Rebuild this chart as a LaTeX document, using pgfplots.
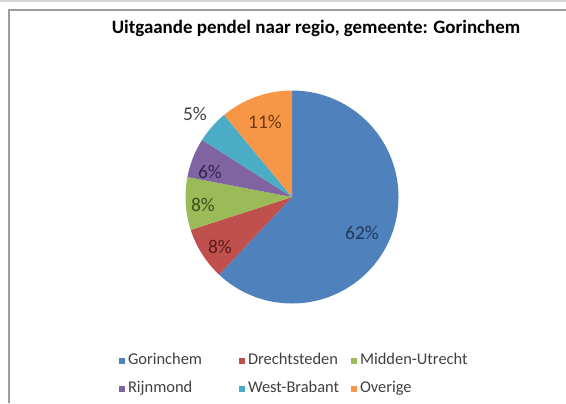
\documentclass[border=0pt]{standalone}
\usepackage{pgfplots}
\pgfplotsset{compat=1.18}
\usepackage{fontspec}
\setmainfont{Carlito}
\definecolor{pblue}{HTML}{4F81BD}
\definecolor{pred}{HTML}{C0504D}
\definecolor{pgreen}{HTML}{9BBB59}
\definecolor{ppurple}{HTML}{8064A2}
\definecolor{paqua}{HTML}{4BACC6}
\definecolor{porange}{HTML}{F79646}
\definecolor{lblue}{HTML}{1F3A5E}
\definecolor{lred}{HTML}{5A1C1A}
\definecolor{lgreen}{HTML}{3D4F1E}
\definecolor{lpurple}{HTML}{33264A}
\definecolor{lorange}{HTML}{6B3A10}
\definecolor{lgrayt}{HTML}{404040}
\definecolor{legtext}{HTML}{404040}
\definecolor{topline}{HTML}{D4D4D4}
\definecolor{frame}{HTML}{9C9C9C}
\begin{document}
\begin{tikzpicture}[x=1bp,y=1bp]
\useasboundingbox (0,0) rectangle (566,403);
\draw[color=topline, line width=1.5bp] (0,402) -- (566,402);
\draw[color=frame, line width=1.2bp] (9,0) -- (9,393) -- (566,393);
\node[anchor=base, font=\fontsize{19}{22}\selectfont\bfseries] at (316,369.7) {Uitgaande pendel naar regio, gemeente: Gorinchem};
\begin{axis}[
  at={(185.5bp,99.5bp)}, anchor=south west,
  scale only axis, width=213bp, height=213bp,
  xmin=-1, xmax=1, ymin=-1, ymax=1,
  hide axis, clip=false,
  legend columns=3,
  legend cell align=left,
  legend style={at={(-0.3122,-0.2371)}, anchor=north west, draw=none, fill=none,
    inner sep=0pt, outer sep=0pt, /tikz/row sep=15.4bp, /tikz/column sep=0pt,
    font=\fontsize{16.5}{19}\selectfont,
    nodes={inner xsep=0pt, inner ysep=0pt, text height=10bp, text depth=3bp, text=legtext, align=left}},
  legend image code/.code={\fill[#1] (0bp,-3bp) rectangle (6bp,3bp); \path (9bp,0bp);},
]
\addplot[fill=pblue, draw=none, data cs=polar, domain=-133.2:90, samples=120] {1} -- (axis cs:0,0) -- cycle;
\addlegendentry[text width=111bp]{Gorinchem}
\addplot[fill=pred, draw=none, data cs=polar, domain=-162:-133.2, samples=20] {1} -- (axis cs:0,0) -- cycle;
\addlegendentry[text width=103bp]{Drechtsteden}
\addplot[fill=pgreen, draw=none, data cs=polar, domain=-190.8:-162, samples=20] {1} -- (axis cs:0,0) -- cycle;
\addlegendentry[text width=120bp]{Midden-Utrecht}
\addplot[fill=ppurple, draw=none, data cs=polar, domain=-212.4:-190.8, samples=16] {1} -- (axis cs:0,0) -- cycle;
\addlegendentry[text width=111bp]{Rijnmond}
\addplot[fill=paqua, draw=none, data cs=polar, domain=-230.4:-212.4, samples=14] {1} -- (axis cs:0,0) -- cycle;
\addlegendentry[text width=103bp]{West-Brabant}
\addplot[fill=porange, draw=none, data cs=polar, domain=-270:-230.4, samples=30] {1} -- (axis cs:0,0) -- cycle;
\addlegendentry[text width=120bp]{Overige}
\begin{scope}[font=\fontsize{19.5}{22}\selectfont]
\node[text=lblue] at (axis cs:0.657,-0.338) {62\%};
\node[text=lred] at (axis cs:-0.676,-0.469) {8\%};
\node[text=lgreen] at (axis cs:-0.836,-0.075) {8\%};
\node[text=lpurple] at (axis cs:-0.770,0.235) {6\%};
\node[text=lgrayt] at (axis cs:-0.911,0.779) {5\%};
\node[text=lorange] at (axis cs:-0.254,0.704) {11\%};
\end{scope}
\end{axis}
\end{tikzpicture}
\end{document}
